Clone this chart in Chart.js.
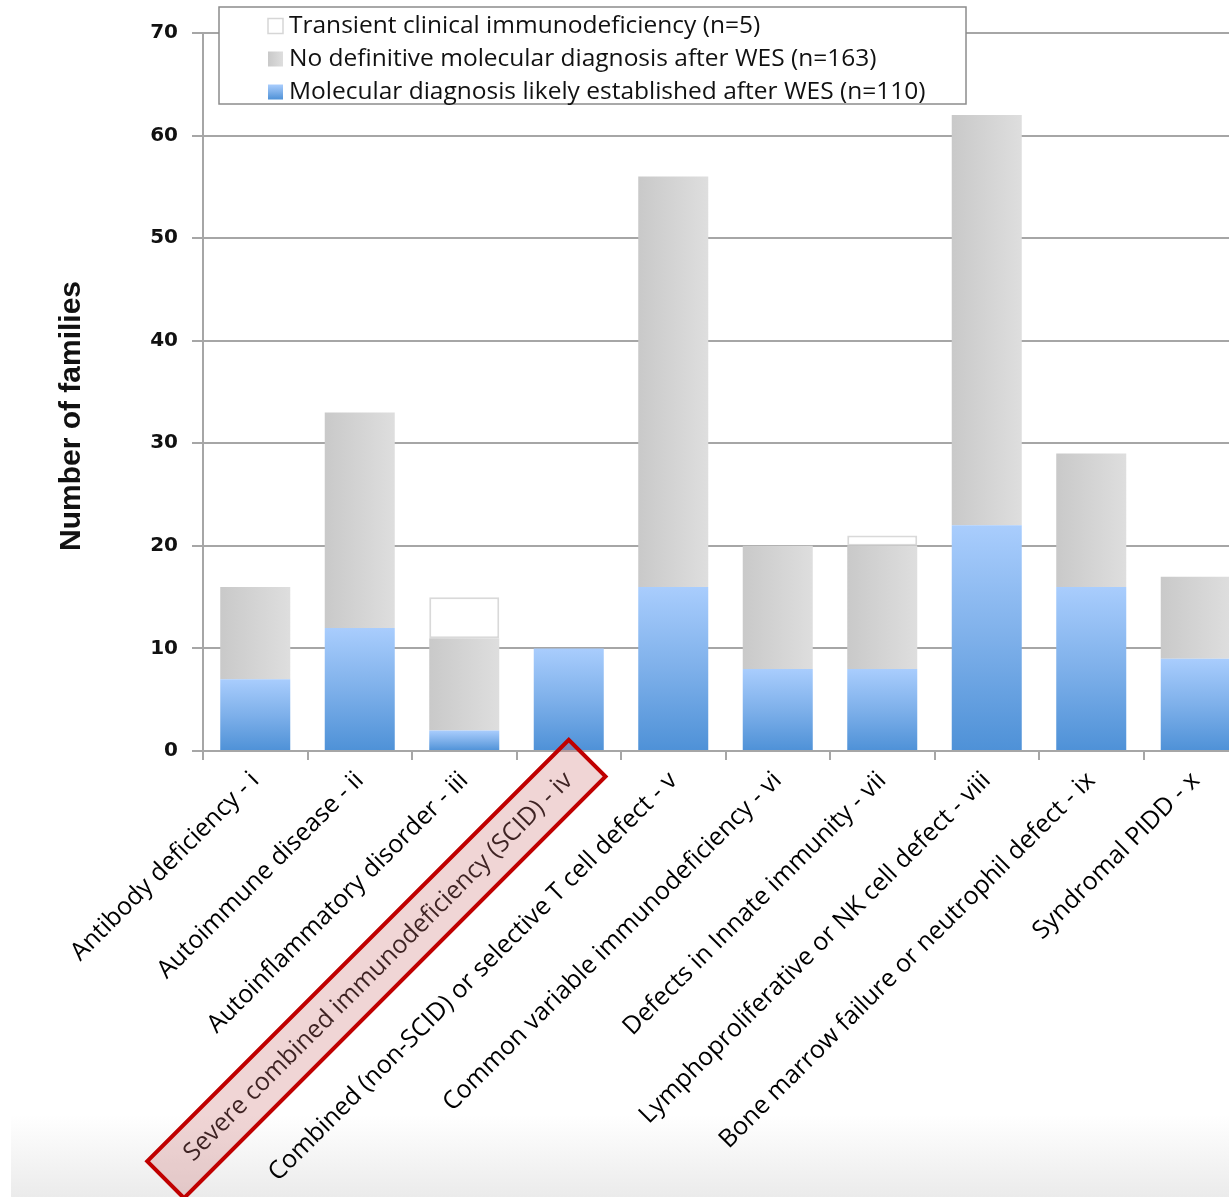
<!DOCTYPE html>
<html>
<head>
<meta charset="utf-8">
<script src="https://cdn.jsdelivr.net/npm/chart.js@4.4.0/dist/chart.umd.min.js"></script>
<style>
  html, body { margin: 0; padding: 0; background: #fff; overflow: hidden; width: 1229px; height: 1197px; }
  #band { position: absolute; left: 11px; top: 1115px; width: 1240px; height: 82px;
          background: linear-gradient(to bottom, rgba(240,240,240,0), #ebebeb); }
  #wrap { position: absolute; left: 0; top: 0; }
</style>
</head>
<body>
<div id="band"></div>
<div id="wrap"><canvas id="myChart" width="1252" height="1197"></canvas></div>
<script>
const categories = [
  "Antibody deficiency - i",
  "Autoimmune disease - ii",
  "Autoinflammatory disorder - iii",
  "Severe combined immunodeficiency (SCID) - iv",
  "Combined (non-SCID) or selective T cell defect - v",
  "Common variable immunodeficiency - vi",
  "Defects in Innate immunity - vii",
  "Lymphoproliferative or NK cell defect - viii",
  "Bone marrow failure or neutrophil defect - ix",
  "Syndromal PIDD - x"
];
const diagnosed = [7, 12, 2, 10, 16, 8, 8, 22, 16, 9];
const undiagnosed = [9, 21, 9, 0, 40, 12, 12, 40, 13, 8];
const transient = [0, 0, 4, 0, 0, 0, 1, 0, 0, 0];
const seriesNames = [
  "Molecular diagnosis likely established after WES (n=110)",
  "No definitive molecular diagnosis after WES (n=163)",
  "Transient clinical immunodeficiency (n=5)"
];
const yTicks = [0, 10, 20, 30, 40, 50, 60, 70];
const yTitle = "Number of families";
const highlightIndex = 3;

const barPct = 0.67;
const gridGray = "#a6a6a6";

const blueGrad = (c, top, bottom) => {
  const g = c.createLinearGradient(0, top, 0, bottom);
  g.addColorStop(0, "#a9cdfd");
  g.addColorStop(0.5, "#7eb0ea");
  g.addColorStop(1, "#4e91d7");
  return g;
};
const grayGrad = (c, left, right) => {
  const g = c.createLinearGradient(left, 0, right, 0);
  g.addColorStop(0, "#c9c9c9");
  g.addColorStop(1, "#dedede");
  return g;
};

const blueFill = (ctx) => {
  const chart = ctx.chart;
  if (!chart.chartArea || ctx.type !== "data") return "#7eb0ea";
  const y = chart.scales.y;
  const v = diagnosed[ctx.dataIndex];
  return blueGrad(chart.ctx, y.getPixelForValue(v), y.getPixelForValue(0));
};
const grayFill = (ctx) => {
  const chart = ctx.chart;
  if (!chart.chartArea || ctx.type !== "data") return "#d4d4d4";
  const x = chart.scales.x;
  const cx = x.getPixelForValue(ctx.dataIndex);
  const hw = (x.width / categories.length) * barPct / 2;
  return grayGrad(chart.ctx, cx - hw, cx + hw);
};

// pink box over the SCID label
const highlightPlugin = {
  id: "highlight",
  afterDraw(chart) {
    const xs = chart.scales.x;
    const items = xs.getLabelItems();
    const item = items[highlightIndex];
    if (!item) return;
    const c = chart.ctx;
    c.save();
    c.font = item.font.string;
    const w = c.measureText(item.label).width;
    const fs = item.font.size;
    const [tx, ty] = item.options.translation;
    c.translate(tx, ty);
    c.rotate(item.options.rotation);
    let mid = item.textOffset;
    const base = item.options.textBaseline;
    if (base === "top") mid += fs / 2;
    else if (base === "bottom" || base === "alphabetic") mid -= fs / 2;
    const padL = 32, padR = 26, half = 26;
    c.beginPath();
    c.rect(-w - padL, mid - half, w + padL + padR, half * 2);
    c.fillStyle = "rgba(205,115,115,0.3)";
    c.fill();
    c.lineWidth = 4;
    c.strokeStyle = "#c00000";
    c.lineJoin = "miter";
    c.stroke();
    c.restore();
  }
};

// y axis title, sits a bit below the middle like the original
const axisTitle = {
  id: "axisTitle",
  afterDraw(chart) {
    const c = chart.ctx;
    c.save();
    c.translate(72, 416);
    c.rotate(-Math.PI / 2);
    c.font = "bold 30px 'Liberation Sans Narrow', 'Arial Narrow', 'Liberation Sans', sans-serif";
    c.fillStyle = "#111";
    c.textAlign = "center";
    c.textBaseline = "middle";
    c.fillText(yTitle, 0, 0);
    c.restore();
  }
};

// boxed legend sitting over the top of the plot
const boxLegend = {
  id: "boxLegend",
  afterDraw(chart) {
    const c = chart.ctx;
    const a = chart.chartArea;
    const left = a.left + 16, top = 7, w = 747, h = 97;
    c.save();
    c.fillStyle = "#fff";
    c.fillRect(left, top, w, h);
    c.strokeStyle = "#8c8c8c";
    c.lineWidth = 1.5;
    c.strokeRect(left, top, w, h);
    const order = [2, 1, 0];
    c.font = "24.5px 'Open Sans', Lato, sans-serif";
    c.textBaseline = "middle";
    order.forEach((ds, k) => {
      const cy = top + 19 + k * 33;
      const mx = left + 49, sz = 15;
      if (ds === 2) {
        c.fillStyle = "#fff";
        c.fillRect(mx, cy - sz / 2, sz, sz);
        c.strokeStyle = "#d6d6d6";
        c.lineWidth = 1.5;
        c.strokeRect(mx, cy - sz / 2, sz, sz);
      } else if (ds === 1) {
        c.fillStyle = grayGrad(c, mx, mx + sz);
        c.fillRect(mx, cy - sz / 2, sz, sz);
      } else {
        c.fillStyle = blueGrad(c, cy - sz / 2, cy + sz / 2);
        c.fillRect(mx, cy - sz / 2, sz, sz);
      }
      c.fillStyle = "#111";
      c.fillText(seriesNames[ds], mx + sz + 6, cy);
    });
    c.restore();
  }
};

new Chart(document.getElementById("myChart").getContext("2d"), {
  type: "bar",
  data: {
    labels: categories,
    datasets: [
      {
        label: seriesNames[0],
        data: diagnosed,
        backgroundColor: blueFill,
        borderWidth: 0,
        barPercentage: barPct,
        categoryPercentage: 1
      },
      {
        label: seriesNames[1],
        data: undiagnosed.map((v) => v || null),
        backgroundColor: grayFill,
        borderWidth: 0,
        barPercentage: barPct,
        categoryPercentage: 1
      },
      {
        label: seriesNames[2],
        data: transient.map((v) => v || null),
        backgroundColor: "#ffffff",
        borderColor: "#d9d9d9",
        borderWidth: 2,
        borderSkipped: false,
        barPercentage: barPct,
        categoryPercentage: 1
      }
    ]
  },
  options: {
    responsive: false,
    animation: false,
    devicePixelRatio: 1,
    layout: { padding: { top: 33, left: 0, right: 4, bottom: 0 } },
    plugins: {
      legend: { display: false },
      tooltip: { enabled: false }
    },
    scales: {
      x: {
        stacked: true,
        afterFit: (s) => { s.height = 1197 - 751; },
        grid: {
          display: true,
          drawOnChartArea: false,
          offset: true,
          tickLength: 9,
          color: gridGray,
          lineWidth: 2
        },
        border: { display: true, color: gridGray, width: 2 },
        ticks: {
          autoSkip: false,
          minRotation: 45,
          maxRotation: 45,
          padding: 6,
          color: "#000",
          font: { family: "'Open Sans', Lato, sans-serif", size: 25 }
        }
      },
      y: {
        stacked: true,
        min: 0,
        max: 70,
        afterFit: (s) => { s.width = 203; },
        afterBuildTicks: (s) => { s.ticks = yTicks.map((v) => ({ value: v })); },
        grid: {
          color: gridGray,
          lineWidth: 2,
          tickLength: 11,
          drawTicks: true
        },
        border: { display: true, color: gridGray, width: 2 },
        ticks: {
          padding: 14,
          color: "#111",
          font: { family: "'DejaVu Sans', sans-serif", size: 20, weight: "bold" }
        },
        title: { display: false }
      }
    }
  },
  plugins: [highlightPlugin, axisTitle, boxLegend]
});
</script>
</body>
</html>
